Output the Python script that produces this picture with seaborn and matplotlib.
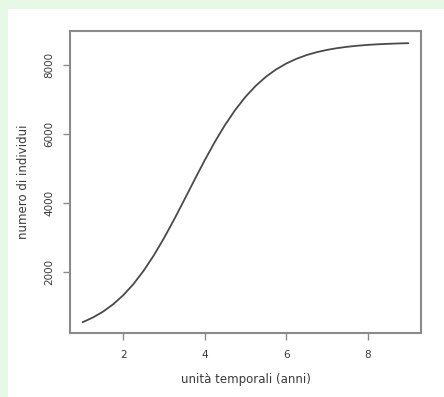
import matplotlib
matplotlib.use("Agg")
import matplotlib.pyplot as plt
import seaborn as sns
import pandas as pd
from matplotlib.patches import Rectangle

# data
anni = [1.0, 1.25, 1.5, 1.75, 2.0, 2.25, 2.5, 2.75, 3.0, 3.25, 3.5, 3.75, 4.0, 4.25, 4.5, 4.75,
        5.0, 5.25, 5.5, 5.75, 6.0, 6.25, 6.5, 6.75, 7.0, 7.25, 7.5, 7.75, 8.0, 8.25, 8.5, 8.75, 9.0]
individui = [545, 680, 850, 1065, 1330, 1653, 2040, 2486, 2986, 3529, 4099, 4677, 5242, 5778, 6268, 6702,
             7078, 7395, 7658, 7871, 8043, 8180, 8288, 8372, 8438, 8489, 8529, 8559, 8583, 8601, 8614, 8625, 8633]
xticks = [2, 4, 6, 8]
yticks = [2000, 4000, 6000, 8000]

sns.set_theme(style="ticks")
plt.rcParams['font.family'] = ['DejaVu Sans']

df = pd.DataFrame({"t": anni, "n": individui})

W, H = 444, 397
fig = plt.figure(figsize=(W / 100, H / 100), dpi=100)
fig.patch.set_facecolor('#e6f8e6')
fig.patches.append(Rectangle((8 / W, 0), 1 - 8 / W, 1 - 9 / H, transform=fig.transFigure,
                             facecolor='white', edgecolor='none', zorder=-10))

ax_l, ax_t, ax_r, ax_b = 70, 31, 421, 333
ax = fig.add_axes([ax_l / W, 1 - ax_b / H, (ax_r - ax_l) / W, (ax_b - ax_t) / H])
ax.set_zorder(5)
ax.set_facecolor('white')
sns.lineplot(data=df, x="t", y="n", ax=ax, color='#4a4a4a', linewidth=1.3)

ax.set_xlim(0.69, 9.31)
ax.set_ylim(232, 8986)
ax.set_xticks(xticks)
ax.set_xticklabels([str(v) for v in xticks])
ax.set_yticks(yticks)
ax.set_yticklabels([str(v) for v in yticks], rotation=90, va='center')

for s in ax.spines.values():
    s.set_visible(True)
    s.set_color('#8a8a8a')
    s.set_linewidth(1.5)

ax.tick_params(axis='both', length=5, width=1.0, color='#8a8a8a', labelsize=7.5, labelcolor='#3a3a3a')
ax.tick_params(axis='x', pad=7)
ax.tick_params(axis='y', pad=6)
ax.set_xlabel("unità temporali (anni)", fontsize=8.5, color='#3a3a3a', va='center')
ax.set_ylabel("numero di individui", fontsize=8.5, color='#3a3a3a', va='center')
ax.xaxis.set_label_coords(0.5, -(379 - ax_b) / (ax_b - ax_t))
ax.yaxis.set_label_coords(-(ax_l - 23) / (ax_r - ax_l), 0.5)

fig.savefig("out.png", dpi=100, facecolor=fig.get_facecolor())
